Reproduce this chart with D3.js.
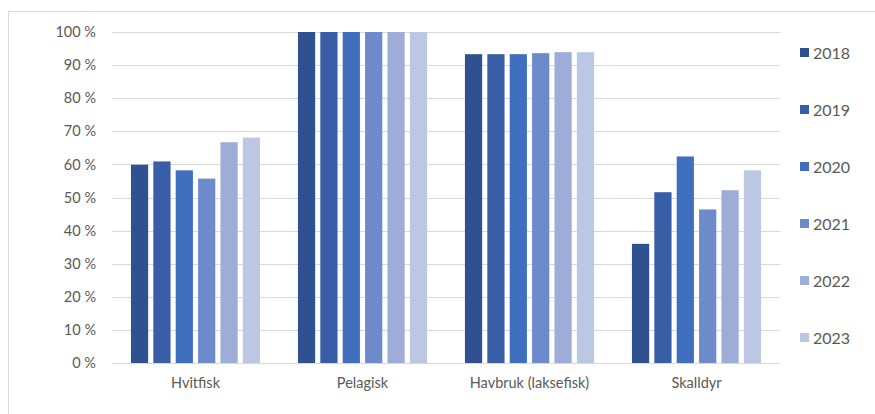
<!DOCTYPE html>
<html>
<head>
<meta charset="utf-8">
<script src="https://cdn.jsdelivr.net/npm/d3@7"></script>
<style>
  body { margin: 0; background: #fff; }
  svg { display: block; }
  svg text { font-family: Lato, "Open Sans", sans-serif; }
  .tick text { fill: #595959; }
</style>
</head>
<body>
<svg id="chart" width="875" height="414"></svg>
<script>
const categories = ['Hvitfisk', 'Pelagisk', 'Havbruk (laksefisk)', 'Skalldyr'];
const years = ['2018', '2019', '2020', '2021', '2022', '2023'];
const values = {
  'Hvitfisk':            [59.9, 60.9, 58.2, 55.7, 66.7, 68.1],
  'Pelagisk':            [100, 100, 100, 100, 100, 100],
  'Havbruk (laksefisk)': [93.3, 93.3, 93.3, 93.6, 93.9, 93.9],
  'Skalldyr':            [36.0, 51.6, 62.4, 46.4, 52.2, 58.2]
};
const yTicks = [0, 10, 20, 30, 40, 50, 60, 70, 80, 90, 100];
const colors = ['#2f5190', '#395ea8', '#416fc0', '#6d8acb', '#9dadd8', '#bbc7e3'];

const svg = d3.select('#chart');
const plot = { left: 112, right: 780, top: 32, bottom: 363 };

// outer frame (right and bottom edges fall outside the picture)
svg.append('rect')
  .attr('x', 8.5).attr('y', 11.5)
  .attr('width', 900).attr('height', 450)
  .attr('fill', 'none')
  .attr('stroke', '#d9d9d9');

const x0 = d3.scaleBand()
  .domain(categories)
  .range([plot.left, plot.right])
  .paddingInner(0.2)
  .paddingOuter(0.1);

const x1 = d3.scaleBand()
  .domain(years)
  .range([0, x0.bandwidth()])
  .paddingInner(0.23)
  .paddingOuter(0.1);

const y = d3.scaleLinear().domain([0, 100]).range([plot.bottom, plot.top]);
const z = d3.scaleOrdinal().domain(years).range(colors);

// gridlines
svg.append('g')
  .selectAll('line')
  .data(yTicks)
  .enter().append('line')
  .attr('x1', plot.left).attr('x2', plot.right)
  .attr('y1', d => Math.round(y(d)) + 0.5)
  .attr('y2', d => Math.round(y(d)) + 0.5)
  .attr('stroke', '#d9d9d9')
  .attr('stroke-width', 1);

// y axis labels
const yAxis = svg.append('g')
  .attr('transform', `translate(${plot.left - 16},0)`)
  .call(d3.axisLeft(y).tickValues(yTicks).tickSize(0).tickFormat(d => d + ' %'))
  .style('font-size', '14.5px');
yAxis.select('.domain').remove();
yAxis.selectAll('text').attr('x', 0);

// bars
const group = svg.append('g')
  .selectAll('g')
  .data(categories)
  .enter().append('g')
  .attr('transform', d => `translate(${x0(d)},0)`);

group.selectAll('rect')
  .data(c => values[c].map((v, i) => ({ year: years[i], value: v })))
  .enter().append('rect')
  .attr('x', d => x1(d.year))
  .attr('width', x1.bandwidth())
  .attr('y', d => y(d.value))
  .attr('height', d => y(0) - y(d.value))
  .attr('fill', d => z(d.year));

// x axis labels
const xAxis = svg.append('g')
  .attr('transform', `translate(0,${plot.bottom})`)
  .call(d3.axisBottom(x0).tickSize(0).tickPadding(15))
  .style('font-size', '14.5px');
xAxis.select('.domain').remove();

// legend
const legend = svg.append('g')
  .selectAll('g')
  .data(years)
  .enter().append('g')
  .attr('transform', (d, i) => `translate(800,${53 + i * 57})`);

legend.append('rect')
  .attr('x', 0).attr('y', -5)
  .attr('width', 9).attr('height', 9)
  .attr('fill', d => z(d));

legend.append('text')
  .attr('x', 13)
  .attr('dy', '0.36em')
  .attr('fill', '#595959')
  .style('font-size', '16px')
  .text(d => d);
</script>
</body>
</html>
